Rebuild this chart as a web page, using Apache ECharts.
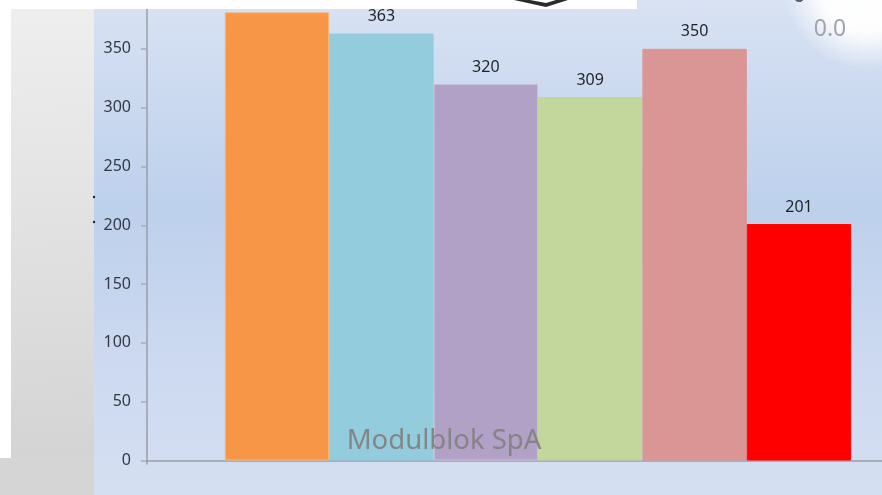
<!DOCTYPE html>
<html>
<head>
<meta charset="utf-8">
<script src="https://cdn.jsdelivr.net/npm/echarts@6/dist/echarts.min.js"></script>
<style>html,body{margin:0;padding:0;background:#fff}#c{width:882px;height:495px}</style>
</head>
<body>
<div id="c"></div>
<script>
const categories = ['Modulblok SpA'];
const values = [381, 363, 320, 309, 350, 201];
const barColors = ['#f79646', '#93cddd', '#b2a1c7', '#c3d69b', '#d99694', '#ff0000'];
const barBorders = ['#fbb57c', '#93cddd', '#cbbfdc', '#c3d69b', '#d99694', '#ff0000'];
const yTicks = { min: 0, max: 400, interval: 50 };
const font = '"Noto Sans", sans-serif';

const chart = echarts.init(document.getElementById('c'), null, { renderer: 'canvas' });
chart.setOption({
  animation: false,
  backgroundColor: '#ffffff',
  grid: { left: 147, right: -47, top: -10, bottom: 34.5, containLabel: false, outerBoundsMode: 'none' },
  xAxis: {
    type: 'category',
    data: categories,
    axisLine: { lineStyle: { color: '#9a9ea6', width: 1.5 } },
    axisTick: { show: true, length: 4, lineStyle: { color: '#9a9ea6', width: 1.5 } },
    axisLabel: { show: false }
  },
  yAxis: {
    type: 'value',
    min: yTicks.min,
    max: yTicks.max,
    interval: yTicks.interval,
    splitLine: { show: false },
    axisLine: { show: true, lineStyle: { color: '#9a9ea6', width: 1.5 } },
    axisTick: { show: true, length: 6, lineStyle: { color: '#a8acb4', width: 1.5 } },
    axisLabel: { color: '#333a44', fontFamily: font, fontSize: 16, margin: 16 }
  },
  series: values.map((v, i) => ({
    type: 'bar',
    data: [v],
    barGap: 0,
    barCategoryGap: '19.9%',
    itemStyle: { color: barColors[i], borderColor: barBorders[i], borderWidth: 1 },
    label: {
      show: true,
      position: 'top',
      distance: 9,
      color: '#1f2328',
      fontFamily: font,
      fontSize: 16
    }
  })),
  graphic: [
    { type: 'rect', z: -20, silent: true, shape: { x: 94, y: 0, width: 788, height: 495 },
      style: { fill: new echarts.graphic.LinearGradient(0, 0, 0, 1, [
        { offset: 0, color: '#d8e2f3' },
        { offset: 0.42, color: '#bdd0ec' },
        { offset: 0.72, color: '#ccd9f0' },
        { offset: 1, color: '#d5dff2' }
      ]) } },
    { type: 'rect', z: -19, silent: true, shape: { x: 11, y: 0, width: 83, height: 458 },
      style: { fill: new echarts.graphic.LinearGradient(0, 0, 0.2, 1, [
        { offset: 0, color: '#efefef' },
        { offset: 1, color: '#d4d4d4' }
      ]) } },
    { type: 'rect', z: -19, silent: true, shape: { x: 0, y: 458, width: 94, height: 37 },
      style: { fill: '#d5d5d5' } },
    { type: 'circle', z: -18, silent: true, shape: { cx: 868, cy: -15, r: 85 },
      style: { fill: new echarts.graphic.RadialGradient(0.5, 0.5, 0.5, [
        { offset: 0, color: 'rgba(255,255,255,1)' },
        { offset: 0.55, color: 'rgba(255,255,255,0.95)' },
        { offset: 1, color: 'rgba(255,255,255,0)' }
      ]) } },
    { type: 'text', z: -17, silent: true, style: { x: 830, y: 29, text: '0.0', align: 'center', verticalAlign: 'middle',
        fill: '#a0a4ac', font: '23px ' + font, shadowBlur: 3, shadowColor: '#8f9399' } },
    { type: 'text', z: -17, silent: true, style: { x: 799, y: -5, text: '0', align: 'center', verticalAlign: 'middle',
        fill: '#555a60', font: '23px ' + font } },
    { type: 'circle', z: 50, silent: true, shape: { cx: 94, cy: 197, r: 1.2 }, style: { fill: '#222' } },
    { type: 'circle', z: 50, silent: true, shape: { cx: 94, cy: 222, r: 1.2 }, style: { fill: '#222' } },
    { type: 'rect', z: 60, silent: true, shape: { x: 0, y: 0, width: 637, height: 9 }, style: { fill: '#ffffff' } },
    { type: 'rect', z: 60, silent: true, shape: { x: 0, y: 0, width: 11, height: 458 }, style: { fill: '#ffffff' } },
    { type: 'polygon', z: 61, silent: true, shape: { points: [[514, 0], [546, 7], [568, 0], [556, 0], [546, 3], [530, 0]] },
      style: { fill: '#2a2a2a' } },
    { type: 'text', z: 70, silent: true, style: { x: 444, y: 441, text: categories[0], align: 'center', verticalAlign: 'middle',
        fill: 'rgba(130,130,130,0.95)', font: '27.5px ' + font } }
  ]
});
</script>
</body>
</html>
